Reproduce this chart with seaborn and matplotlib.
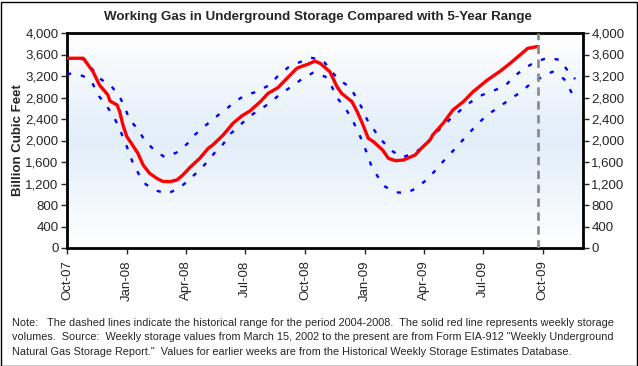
import matplotlib.dates as mdates
import matplotlib.pyplot as plt
import numpy as np
import pandas as pd
import seaborn as sns
from matplotlib.colors import LinearSegmentedColormap
from matplotlib.patches import Rectangle
from matplotlib.ticker import FuncFormatter

# weekly storage (red)
storage_dates = [
    "2007-10-01", "2007-10-26", "2007-11-10", "2007-11-20", "2007-12-03", "2007-12-06",
    "2007-12-17", "2007-12-21", "2007-12-26", "2008-01-01", "2008-01-08", "2008-01-18",
    "2008-01-26", "2008-02-05", "2008-02-16", "2008-02-25", "2008-03-07", "2008-03-18",
    "2008-03-27", "2008-04-07", "2008-04-22", "2008-05-05", "2008-05-12", "2008-05-28",
    "2008-06-12", "2008-06-26", "2008-07-08", "2008-07-24", "2008-08-05", "2008-08-20",
    "2008-09-03", "2008-09-18", "2008-09-28", "2008-10-05", "2008-10-16", "2008-10-24",
    "2008-11-08", "2008-11-19", "2008-11-26", "2008-12-12", "2008-12-20", "2008-12-29",
    "2009-01-06", "2009-01-14", "2009-01-28", "2009-02-06", "2009-02-17", "2009-03-01",
    "2009-03-19", "2009-03-31", "2009-04-11", "2009-04-15", "2009-05-01", "2009-05-16",
    "2009-06-01", "2009-06-16", "2009-07-08", "2009-07-28", "2009-08-12", "2009-08-27",
    "2009-09-08", "2009-09-24",
]
storage_bcf = [
    3530, 3530, 3280, 3030, 2846, 2734,
    2660, 2535, 2288, 2070, 1947, 1761,
    1544, 1389, 1296, 1240, 1234, 1265,
    1358, 1500, 1668, 1854, 1916, 2102,
    2319, 2461, 2548, 2721, 2877, 2982,
    3156, 3342, 3390, 3417, 3478, 3435,
    3280, 3000, 2877, 2721, 2535, 2288,
    2040, 1978, 1823, 1668, 1624, 1637,
    1730, 1884, 2009, 2102, 2319, 2567,
    2721, 2907, 3125, 3292, 3435, 3590,
    3714, 3750,
]

# 5-year maximum (upper blue dashed)
max_dates = [
    "2007-10-01", "2007-10-28", "2007-11-08", "2007-11-20", "2007-12-08", "2007-12-21",
    "2007-12-29", "2008-01-05", "2008-01-18", "2008-01-28", "2008-02-13", "2008-02-28",
    "2008-03-17", "2008-04-02", "2008-04-14", "2008-04-30", "2008-05-15", "2008-05-31",
    "2008-06-15", "2008-07-01", "2008-07-19", "2008-08-07", "2008-08-20", "2008-09-05",
    "2008-09-22", "2008-10-10", "2008-10-28", "2008-11-08", "2008-11-21", "2008-12-08",
    "2008-12-18", "2008-12-27", "2009-01-04", "2009-01-15", "2009-01-27", "2009-02-11",
    "2009-02-27", "2009-03-17", "2009-04-04", "2009-04-16", "2009-04-29", "2009-05-13",
    "2009-05-28", "2009-06-13", "2009-06-30", "2009-07-17", "2009-08-04", "2009-08-19",
    "2009-09-04", "2009-09-21", "2009-10-09", "2009-10-28", "2009-11-07", "2009-11-20",
]
max_bcf = [
    3528, 3510, 3342, 3156, 3013, 2814,
    2610, 2393, 2207, 2009, 1810, 1693,
    1773, 1929, 2102, 2269, 2424, 2567,
    2721, 2846, 2907, 3032, 3199, 3361,
    3454, 3540, 3497, 3324, 3137, 3000,
    2814, 2610, 2393, 2195, 1997, 1810,
    1687, 1761, 1916, 2102, 2245, 2412,
    2567, 2721, 2846, 2926, 3013, 3199,
    3354, 3465, 3540, 3497, 3324, 3143,
]

# 5-year minimum (lower blue dashed)
min_dates = [
    "2007-10-01", "2007-10-08", "2007-10-26", "2007-11-10", "2007-11-19", "2007-12-01",
    "2007-12-12", "2007-12-21", "2007-12-28", "2008-01-04", "2008-01-10", "2008-01-19",
    "2008-01-30", "2008-02-16", "2008-03-03", "2008-03-21", "2008-04-04", "2008-04-20",
    "2008-05-03", "2008-05-15", "2008-05-28", "2008-06-09", "2008-06-23", "2008-07-08",
    "2008-07-24", "2008-08-09", "2008-08-23", "2008-09-09", "2008-09-26", "2008-10-14",
    "2008-11-01", "2008-11-11", "2008-11-19", "2008-12-02", "2008-12-12", "2008-12-21",
    "2008-12-28", "2009-01-04", "2009-01-10", "2009-01-20", "2009-02-01", "2009-02-18",
    "2009-03-06", "2009-03-22", "2009-04-08", "2009-04-21", "2009-05-03", "2009-05-16",
    "2009-05-29", "2009-06-11", "2009-06-25", "2009-07-09", "2009-07-26", "2009-08-12",
    "2009-08-28", "2009-09-13", "2009-09-28", "2009-10-16", "2009-11-03", "2009-11-20",
]
min_bcf = [
    3230, 3249, 3199, 3045, 2827, 2641,
    2442, 2207, 2009, 1791, 1587, 1382,
    1185, 1066, 1010, 1110, 1252, 1432,
    1594, 1773, 1934, 2133, 2288, 2455,
    2579, 2710, 2858, 2995, 3143, 3268,
    3187, 3000, 2796, 2598, 2393, 2176,
    1978, 1761, 1556, 1339, 1140, 1036,
    1023, 1122, 1296, 1470, 1637, 1804,
    1978, 2152, 2331, 2486, 2623, 2771,
    2896, 3063, 3168, 3280, 3143, 2771,
]

y_ticks = [0, 400, 800, 1200, 1600, 2000, 2400, 2800, 3200, 3600, 4000]
x_ticks = ["2007-10-01", "2008-01-01", "2008-04-01", "2008-07-01", "2008-10-01",
           "2009-01-01", "2009-04-01", "2009-07-01", "2009-10-01"]
current_week = "2009-09-24"

title = "Working Gas in Underground Storage Compared with 5-Year Range"
note = ("Note:   The dashed lines indicate the historical range for the period 2004-2008.  "
        "The solid red line represents weekly storage\n"
        "volumes.  Source:  Weekly storage values from March 15, 2002 to the present are from "
        "Form EIA-912 \"Weekly Underground\n"
        "Natural Gas Storage Report.\"  Values for earlier weeks are from the Historical "
        "Weekly Storage Estimates Database.")

red = pd.DataFrame({"date": pd.to_datetime(storage_dates), "bcf": storage_bcf})
hi = pd.DataFrame({"date": pd.to_datetime(max_dates), "bcf": max_bcf})
lo = pd.DataFrame({"date": pd.to_datetime(min_dates), "bcf": min_bcf})

sns.set_style("white")
plt.rcParams["font.family"] = ["Liberation Sans", "DejaVu Sans"]

fig = plt.figure(figsize=(6.38, 3.66), dpi=100)
ax = fig.add_axes((67 / 638, 1 - 248 / 366, 516 / 638, 215 / 366))

# background gradient: white -> light blue -> white
grad = LinearSegmentedColormap.from_list("bg", ["#ffffff", "#e2eefa", "#ffffff"])
ax.imshow(np.linspace(0, 1, 256).reshape(-1, 1), cmap=grad, aspect="auto",
          extent=(0, 1, 0, 1), transform=ax.transAxes, zorder=0)

dash = (0, (1.8, 4.2))
sns.lineplot(data=hi, x="date", y="bcf", ax=ax, color="#0000ff", linewidth=1.7,
             linestyle=dash, estimator=None, zorder=3)
sns.lineplot(data=lo, x="date", y="bcf", ax=ax, color="#0000ff", linewidth=1.7,
             linestyle=dash, estimator=None, zorder=3)
sns.lineplot(data=red, x="date", y="bcf", ax=ax, color="#ff0000", linewidth=2.4,
             estimator=None, zorder=4)
ax.axvline(pd.Timestamp(current_week), color="#8c8c8c", linewidth=2,
           linestyle=(0, (3, 2)), zorder=5)

ax.set_xlim(pd.Timestamp("2007-10-01"), pd.Timestamp("2009-12-02"))
ax.set_ylim(0, 4000)
ax.set_xticks(pd.to_datetime(x_ticks))
ax.xaxis.set_major_formatter(mdates.DateFormatter("%b-%y"))
ax.set_yticks(y_ticks)
fmt = FuncFormatter(lambda v, p: f"{int(v):,}")
ax.yaxis.set_major_formatter(fmt)
ax.set_xlabel("")
ax.set_ylabel("Billion Cubic Feet", fontsize=9.5, fontweight="bold", labelpad=1)
ax.tick_params(axis="x", labelrotation=90, labelsize=9.5, length=4, width=1, direction="out",
               bottom=True, pad=5)
ax.tick_params(axis="y", labelsize=9.5, length=4, width=1, direction="out", left=True, pad=2)
for s in ax.spines.values():
    s.set_color("black")
    s.set_linewidth(2)

ax2 = ax.twinx()
ax2.set_ylim(0, 4000)
ax2.set_yticks(y_ticks)
ax2.yaxis.set_major_formatter(fmt)
ax2.tick_params(axis="y", labelsize=9.5, length=4, width=1, direction="out", right=True, pad=2)
for s in ax2.spines.values():
    s.set_visible(False)

fig.text(318 / 638, 1 - 17 / 366, title, ha="center", va="center", fontsize=9.6,
         fontweight="bold")
fig.text(12 / 638, 1 - 318 / 366, note, ha="left", va="top", fontsize=7.8,
         linespacing=1.55)

fig.add_artist(Rectangle((0.5 / 638, 0.5 / 366), 636 / 638, 364 / 366, fill=False,
                         edgecolor="black", linewidth=1, transform=fig.transFigure))

fig.savefig("out.png", dpi=100)
